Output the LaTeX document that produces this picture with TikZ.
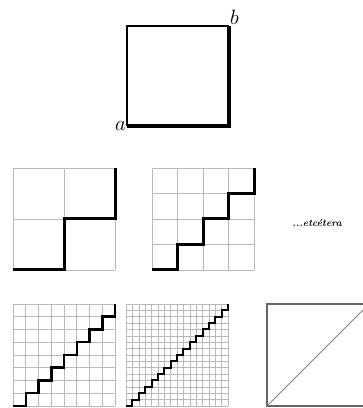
\documentclass[tikz,border=0pt]{standalone}
\usepackage{tikz}

\tikzset{
  gridline/.style={gray!55, line width=0.7pt},
  frameline/.style={gray!80!black, line width=1.2pt},
  stairline/.style={black, line width=#1, line join=miter, line cap=butt},
  stairline/.default=3pt,
  cornerlabel/.style={font=\huge\itshape, inner sep=1pt}
}

\begin{document}
\begin{tikzpicture}[x=1pt,y=1pt]
\useasboundingbox (0,0) rectangle (363,408);

% the single square from a to b
\coordinate (a) at (127,282);
\coordinate (b) at (229,382);
\draw[black, line width=1.2pt] (a) |- (b);
\draw[stairline=4pt] (a) -| (b);
\node[cornerlabel, anchor=east] (la) at (a) {$a$};
\node[cornerlabel, anchor=south west] (lb) at (b) {$b$};

% 2 x 2
\coordinate (s2) at (13,138);
\draw[gridline, shift={(s2)}] (0,0) grid[step=51] (102,102);
\draw[stairline=3pt] (s2) \foreach \i in {1,...,2} { -- ++(51,0) -- ++(0,51) };

% 4 x 4
\coordinate (s4) at (152,138);
\draw[gridline, shift={(s4)}] (0,0) grid[step=25.5] (102,102);
\draw[stairline=3pt] (s4) \foreach \i in {1,...,4} { -- ++(25.5,0) -- ++(0,25.5) };

\node[font=\normalsize\bfseries\itshape] (etc) at (317,185) {...etcétera};

% 8 x 8
\coordinate (s8) at (13,2);
\draw[gridline, shift={(s8)}] (0,0) grid[step=12.75] (102,102);
\draw[stairline=2.5pt] (s8) \foreach \i in {1,...,8} { -- ++(12.75,0) -- ++(0,12.75) };

% 16 x 16
\coordinate (s16) at (126,2);
\draw[gridline, line width=0.5pt, shift={(s16)}] (0,0) grid[step=6.375] (102,102);
\draw[stairline=2pt] (s16) \foreach \i in {1,...,16} { -- ++(6.375,0) -- ++(0,6.375) };

% the limit
\coordinate (c) at (267,2);
\coordinate (d) at (369,104);
\draw[frameline] (c) rectangle (d);
\draw[gray, line width=1pt] (c) -- (d);
\end{tikzpicture}
\end{document}
